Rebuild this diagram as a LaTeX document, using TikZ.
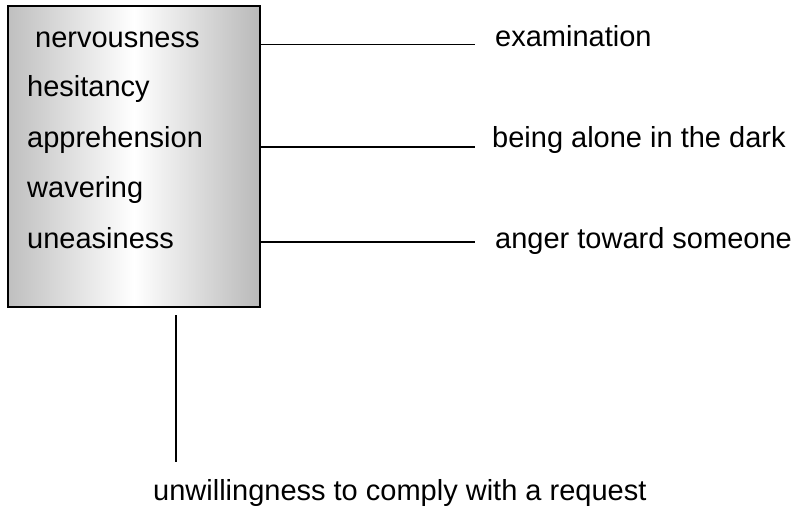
\documentclass[tikz,border=0pt]{standalone}
\usepackage{fontspec}
\setmainfont{Liberation Sans}
\begin{document}
\begin{tikzpicture}[x=1pt,y=-1pt,
  lbl/.style={anchor=base west,inner sep=0pt,font=\fontsize{29}{34}\selectfont},
  conn/.style={line width=1.5pt,black},
  boxstyle/.style={draw=black,line width=2pt,inner sep=0pt,minimum width=252pt,minimum height=301pt,
    left color=gray!50,right color=gray!55,middle color=white}]
\useasboundingbox (0,0) rectangle (796,512);
\node[boxstyle] (box) at (134,156.5) {};
\node[lbl] (w1) at (35,47) {nervousness};
\node[lbl] (w2) at (27,96) {hesitancy};
\node[lbl] (w3) at (27,147) {apprehension};
\node[lbl] (w4) at (27,197) {wavering};
\node[lbl] (w5) at (27,248) {uneasiness};
\node[lbl] (r1) at (495,46) {examination};
\node[lbl] (r2) at (492,147) {being alone in the dark};
\node[lbl] (r3) at (495,248) {anger toward someone};
\node[lbl] (b1) at (153,500) {unwillingness to comply with a request};
\coordinate (e1) at (475,44.5);
\coordinate (e2) at (475,147);
\coordinate (e3) at (475,242);
\coordinate (v1) at (176,315);
\coordinate (v2) at (176,462);
\draw[conn] (box.east |- e1) -- (e1);
\draw[conn] (box.east |- e2) -- (e2);
\draw[conn] (box.east |- e3) -- (e3);
\draw[line width=2pt] (v1) -- (v2);
\end{tikzpicture}
\end{document}
